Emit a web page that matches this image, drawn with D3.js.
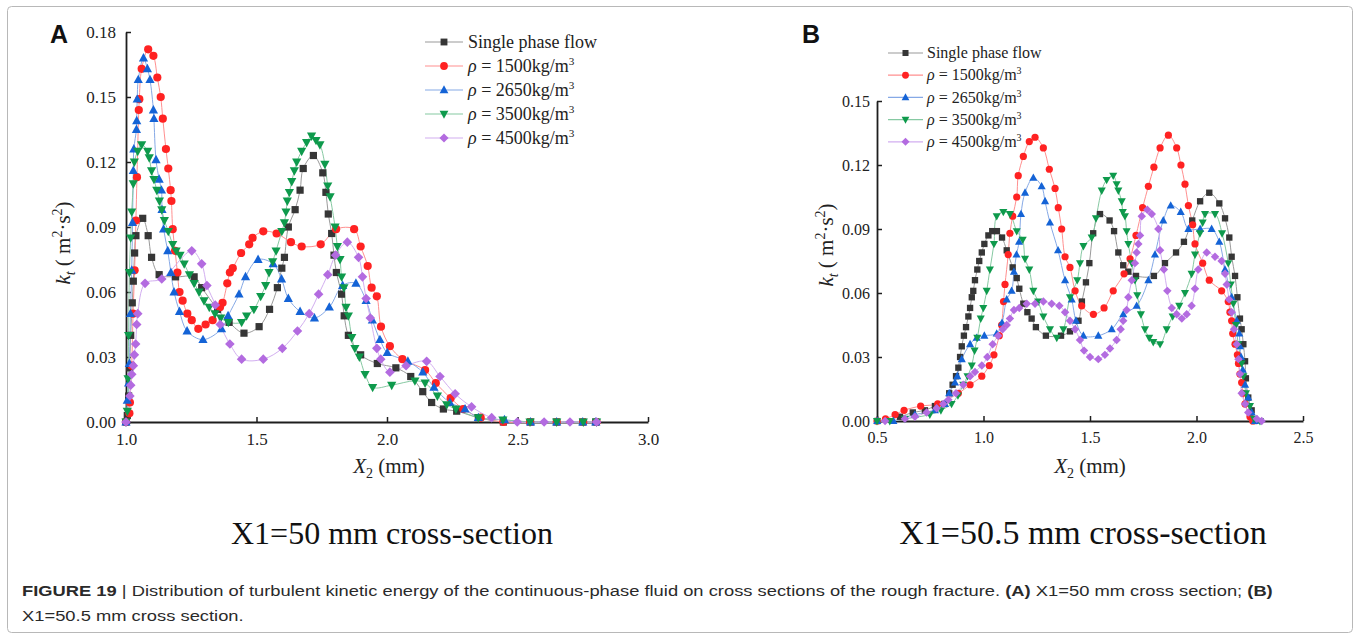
<!DOCTYPE html>
<html>
<head>
<meta charset="utf-8">
<script src="https://cdn.jsdelivr.net/npm/d3@7"></script>
<style>
  body { margin: 0; background: #fff; }
  svg { display: block; }
</style>
</head>
<body>
<script>
// ---- data: [X2 (mm), k_t] pairs ----
// panel A : X1 = 50 mm
var aSingle = [[1.000,0],[1.005,0.003],[1.010,0.012],[1.014,0.025],[1.018,0.040],[1.024,0.055],[1.028,0.065],[1.033,0.078],[1.038,0.086],[1.064,0.094],[1.085,0.086],[1.098,0.076],[1.127,0.068],[1.190,0.067],[1.261,0.067],[1.290,0.062],[1.351,0.052],[1.395,0.046],[1.452,0.041],[1.510,0.044],[1.550,0.052],[1.580,0.062],[1.597,0.071],[1.607,0.076],[1.622,0.090],[1.648,0.098],[1.667,0.107],[1.679,0.117],[1.718,0.123],[1.754,0.115],[1.766,0.106],[1.775,0.096],[1.788,0.087],[1.797,0.077],[1.806,0.069],[1.826,0.059],[1.836,0.049],[1.852,0.040],[1.899,0.031],[1.963,0.027],[2.034,0.025],[2.091,0.021],[2.137,0.014],[2.171,0.009],[2.216,0.006],[2.267,0.005],[2.350,0.002],[2.446,0],[2.550,0],[2.650,0],[2.750,0],[2.800,0]];
var a1500 = [[1.000,0],[1.013,0.004],[1.015,0.009],[1.022,0.026],[1.027,0.050],[1.033,0.070],[1.038,0.093],[1.042,0.113],[1.049,0.144],[1.051,0.149],[1.060,0.163],[1.085,0.172],[1.105,0.169],[1.120,0.159],[1.133,0.150],[1.141,0.140],[1.153,0.126],[1.162,0.117],[1.171,0.107],[1.174,0.102],[1.179,0.089],[1.188,0.079],[1.197,0.069],[1.205,0.060],[1.217,0.056],[1.235,0.050],[1.252,0.047],[1.277,0.043],[1.305,0.045],[1.332,0.047],[1.360,0.053],[1.370,0.055],[1.388,0.064],[1.398,0.069],[1.409,0.071],[1.441,0.078],[1.472,0.082],[1.485,0.085],[1.526,0.088],[1.577,0.087],[1.632,0.083],[1.673,0.081],[1.746,0.082],[1.805,0.089],[1.874,0.089],[1.899,0.081],[1.926,0.072],[1.941,0.062],[1.961,0.058],[1.977,0.044],[2.011,0.035],[2.059,0.029],[2.146,0.024],[2.187,0.018],[2.244,0.011],[2.292,0.006],[2.359,0.002],[2.446,0],[2.548,0],[2.650,0],[2.752,0],[2.803,0]];
var a2650 = [[1.000,0],[1.005,0.010],[1.010,0.018],[1.013,0.027],[1.017,0.050],[1.022,0.070],[1.025,0.092],[1.028,0.116],[1.030,0.126],[1.040,0.135],[1.041,0.139],[1.043,0.149],[1.047,0.158],[1.067,0.168],[1.082,0.163],[1.092,0.158],[1.105,0.144],[1.107,0.140],[1.115,0.121],[1.127,0.112],[1.136,0.107],[1.138,0.098],[1.144,0.089],[1.160,0.079],[1.172,0.069],[1.184,0.060],[1.205,0.051],[1.234,0.042],[1.295,0.038],[1.366,0.043],[1.391,0.049],[1.433,0.059],[1.458,0.067],[1.506,0.075],[1.564,0.073],[1.596,0.066],[1.622,0.057],[1.667,0.051],[1.722,0.048],[1.779,0.053],[1.830,0.063],[1.881,0.064],[1.920,0.056],[1.944,0.047],[1.973,0.038],[2.001,0.032],[2.080,0.028],[2.137,0.023],[2.180,0.016],[2.241,0.009],[2.299,0.006],[2.350,0.002],[2.450,0.001],[2.550,0],[2.650,0],[2.750,0],[2.800,0]];
var a3500 = [[1.000,0],[1.005,0.005],[1.008,0.020],[1.010,0.040],[1.013,0.069],[1.018,0.085],[1.022,0.097],[1.028,0.110],[1.032,0.120],[1.045,0.125],[1.060,0.128],[1.083,0.125],[1.089,0.122],[1.098,0.116],[1.107,0.112],[1.118,0.107],[1.128,0.102],[1.137,0.098],[1.147,0.093],[1.162,0.088],[1.179,0.082],[1.192,0.079],[1.207,0.077],[1.223,0.073],[1.243,0.068],[1.261,0.064],[1.280,0.060],[1.299,0.056],[1.319,0.053],[1.341,0.050],[1.363,0.048],[1.392,0.046],[1.443,0.046],[1.462,0.049],[1.490,0.052],[1.516,0.058],[1.535,0.063],[1.548,0.069],[1.562,0.074],[1.575,0.079],[1.597,0.088],[1.607,0.092],[1.613,0.097],[1.618,0.102],[1.626,0.106],[1.635,0.111],[1.645,0.116],[1.654,0.120],[1.673,0.125],[1.692,0.129],[1.711,0.132],[1.728,0.130],[1.743,0.128],[1.762,0.119],[1.773,0.109],[1.782,0.104],[1.801,0.090],[1.810,0.081],[1.820,0.075],[1.826,0.067],[1.835,0.062],[1.843,0.053],[1.852,0.049],[1.865,0.039],[1.877,0.034],[1.894,0.030],[1.916,0.022],[1.945,0.016],[2.018,0.017],[2.107,0.019],[2.146,0.018],[2.193,0.012],[2.229,0.008],[2.264,0.006],[2.350,0.002],[2.444,0.001],[2.548,0],[2.650,0],[2.752,0],[2.803,0]];
var a4500 = [[1.000,0],[1.015,0.012],[1.018,0.017],[1.022,0.022],[1.028,0.026],[1.032,0.031],[1.037,0.036],[1.041,0.045],[1.045,0.050],[1.073,0.064],[1.137,0.066],[1.252,0.079],[1.290,0.073],[1.310,0.063],[1.342,0.054],[1.361,0.045],[1.398,0.036],[1.443,0.029],[1.526,0.029],[1.599,0.034],[1.657,0.042],[1.702,0.050],[1.738,0.059],[1.773,0.068],[1.803,0.077],[1.848,0.083],[1.891,0.076],[1.906,0.067],[1.920,0.057],[1.936,0.048],[1.961,0.034],[1.976,0.029],[2.011,0.023],[2.073,0.026],[2.152,0.028],[2.203,0.021],[2.261,0.013],[2.324,0.007],[2.401,0.002],[2.499,0],[2.602,0],[2.701,0],[2.803,0]];

// panel B : X1 = 50.5 mm
var bSingle = [[0.501,0],[0.608,0.002],[0.668,0.004],[0.725,0.005],[0.772,0.007],[0.815,0.008],[0.839,0.013],[0.855,0.017],[0.871,0.021],[0.882,0.025],[0.890,0.030],[0.898,0.035],[0.908,0.040],[0.918,0.044],[0.929,0.049],[0.937,0.053],[0.945,0.058],[0.952,0.061],[0.960,0.066],[0.971,0.071],[0.980,0.075],[0.992,0.079],[1.004,0.083],[1.023,0.087],[1.041,0.089],[1.063,0.089],[1.087,0.086],[1.109,0.080],[1.137,0.072],[1.156,0.067],[1.168,0.062],[1.187,0.055],[1.206,0.051],[1.226,0.048],[1.246,0.044],[1.293,0.040],[1.364,0.040],[1.406,0.042],[1.446,0.047],[1.462,0.056],[1.481,0.065],[1.497,0.074],[1.515,0.088],[1.547,0.097],[1.592,0.094],[1.613,0.089],[1.633,0.079],[1.656,0.073],[1.680,0.070],[1.716,0.068],[1.800,0.068],[1.852,0.074],[1.904,0.079],[1.941,0.084],[1.980,0.094],[2.017,0.103],[2.060,0.107],[2.107,0.102],[2.134,0.095],[2.154,0.086],[2.165,0.077],[2.181,0.068],[2.192,0.058],[2.204,0.048],[2.212,0.043],[2.220,0.036],[2.228,0.028],[2.232,0.020],[2.243,0.011],[2.259,0.005],[2.271,0]];
var b1500 = [[0.500,0],[0.540,0.001],[0.585,0.003],[0.627,0.005],[0.705,0.007],[0.785,0.008],[0.882,0.013],[0.937,0.017],[0.992,0.021],[1.027,0.026],[1.049,0.031],[1.074,0.040],[1.085,0.045],[1.094,0.056],[1.101,0.064],[1.116,0.078],[1.124,0.088],[1.137,0.096],[1.156,0.105],[1.163,0.115],[1.187,0.124],[1.215,0.131],[1.242,0.133],[1.281,0.128],[1.309,0.118],[1.336,0.109],[1.351,0.100],[1.367,0.090],[1.383,0.077],[1.406,0.072],[1.430,0.061],[1.461,0.054],[1.516,0.050],[1.566,0.053],[1.609,0.061],[1.660,0.069],[1.688,0.076],[1.716,0.087],[1.747,0.100],[1.774,0.110],[1.800,0.119],[1.829,0.128],[1.868,0.134],[1.907,0.128],[1.927,0.120],[1.946,0.111],[1.962,0.101],[1.982,0.092],[1.993,0.083],[2.029,0.074],[2.060,0.066],[2.118,0.061],[2.149,0.056],[2.157,0.051],[2.165,0.047],[2.170,0.041],[2.181,0.036],[2.192,0.031],[2.197,0.027],[2.204,0.022],[2.212,0.018],[2.217,0.013],[2.228,0.008],[2.251,0.002],[2.264,0]];
var b2650 = [[0.501,0],[0.577,0],[0.678,0.003],[0.772,0.005],[0.819,0.008],[0.839,0.013],[0.866,0.018],[0.877,0.021],[0.898,0.029],[0.937,0.036],[0.968,0.039],[1.004,0.040],[1.062,0.041],[1.087,0.046],[1.109,0.057],[1.132,0.061],[1.143,0.070],[1.155,0.078],[1.167,0.084],[1.176,0.097],[1.195,0.107],[1.234,0.114],[1.273,0.110],[1.289,0.103],[1.312,0.093],[1.350,0.080],[1.383,0.066],[1.414,0.057],[1.434,0.047],[1.469,0.040],[1.539,0.040],[1.602,0.043],[1.656,0.050],[1.719,0.054],[1.774,0.066],[1.805,0.078],[1.844,0.094],[1.879,0.101],[1.926,0.098],[1.962,0.090],[2.017,0.090],[2.071,0.090],[2.107,0.084],[2.134,0.071],[2.165,0.058],[2.189,0.047],[2.201,0.041],[2.204,0.035],[2.209,0.030],[2.217,0.024],[2.228,0.017],[2.243,0.011],[2.259,0.004],[2.275,0]];
var b3500 = [[0.500,0],[0.560,0],[0.631,0.001],[0.748,0.003],[0.800,0.005],[0.850,0.008],[0.880,0.012],[0.905,0.017],[0.925,0.021],[0.945,0.026],[0.958,0.033],[0.971,0.039],[0.987,0.048],[0.999,0.053],[1.015,0.061],[1.030,0.071],[1.049,0.083],[1.062,0.096],[1.093,0.098],[1.124,0.097],[1.156,0.089],[1.184,0.085],[1.195,0.076],[1.215,0.071],[1.234,0.061],[1.257,0.056],[1.281,0.049],[1.312,0.043],[1.344,0.039],[1.375,0.043],[1.406,0.058],[1.440,0.066],[1.453,0.074],[1.469,0.082],[1.508,0.086],[1.528,0.095],[1.555,0.108],[1.578,0.113],[1.609,0.115],[1.625,0.111],[1.633,0.108],[1.649,0.103],[1.654,0.098],[1.664,0.096],[1.672,0.089],[1.680,0.083],[1.696,0.074],[1.711,0.066],[1.722,0.059],[1.739,0.050],[1.758,0.043],[1.778,0.039],[1.797,0.037],[1.829,0.036],[1.860,0.043],[1.888,0.049],[1.919,0.054],[1.946,0.060],[1.977,0.069],[1.993,0.078],[2.016,0.088],[2.029,0.093],[2.040,0.097],[2.087,0.097],[2.120,0.088],[2.149,0.074],[2.161,0.064],[2.173,0.055],[2.185,0.045],[2.196,0.036],[2.212,0.027],[2.220,0.021],[2.232,0.013],[2.251,0.007],[2.270,0.001],[2.298,0]];
var b4500 = [[0.538,0],[0.631,0.001],[0.678,0.002],[0.733,0.004],[0.780,0.006],[0.811,0.008],[0.835,0.010],[0.871,0.013],[0.905,0.017],[0.937,0.021],[0.960,0.023],[0.992,0.026],[1.018,0.030],[1.043,0.036],[1.069,0.040],[1.090,0.043],[1.109,0.045],[1.124,0.048],[1.143,0.052],[1.168,0.053],[1.203,0.055],[1.242,0.055],[1.281,0.056],[1.320,0.055],[1.356,0.054],[1.383,0.051],[1.406,0.047],[1.430,0.043],[1.453,0.038],[1.472,0.033],[1.500,0.030],[1.539,0.029],[1.570,0.031],[1.594,0.034],[1.625,0.038],[1.644,0.043],[1.656,0.047],[1.672,0.052],[1.680,0.058],[1.696,0.066],[1.711,0.074],[1.719,0.079],[1.727,0.083],[1.735,0.087],[1.743,0.096],[1.769,0.099],[1.790,0.097],[1.821,0.090],[1.829,0.080],[1.847,0.071],[1.863,0.061],[1.884,0.053],[1.907,0.050],[1.931,0.048],[1.954,0.050],[1.977,0.054],[1.993,0.062],[2.008,0.071],[2.048,0.079],[2.087,0.077],[2.118,0.075],[2.134,0.069],[2.142,0.064],[2.153,0.057],[2.165,0.051],[2.176,0.043],[2.189,0.036],[2.197,0.029],[2.204,0.022],[2.212,0.013],[2.228,0.008],[2.243,0.004],[2.283,0.001],[2.306,0]];

var seriesNames = ['Single phase flow', '1500', '2650', '3500', '4500'];
var aTicksX = [1.0, 1.5, 2.0, 2.5, 3.0];
var aTicksY = [0.00, 0.03, 0.06, 0.09, 0.12, 0.15, 0.18];
var bTicksX = [0.5, 1.0, 1.5, 2.0, 2.5];
var bTicksY = [0.00, 0.03, 0.06, 0.09, 0.12, 0.15];

// marker / line styling per series
var styles = [
  {sym: 'square',   fill: '#363636', line: '#9a9a9a'},
  {sym: 'circle',   fill: '#ff2222', line: '#ff8f8f'},
  {sym: 'triangle', fill: '#1463d6', line: '#86a9e6'},
  {sym: 'down',     fill: '#0e9a4c', line: '#86c9a2'},
  {sym: 'diamond',  fill: '#b36be0', line: '#d2aef0'}
];

var W = 1354, H = 637;
var svg = d3.select('body').append('svg').attr('width', W).attr('height', H);
svg.append('rect').attr('x', 7.5).attr('y', 6.5).attr('width', 1345).attr('height', 626)
   .attr('rx', 4).attr('fill', '#fff').attr('stroke', '#b8b8b8').attr('stroke-width', 1);

var serif = '"Liberation Serif","Times New Roman",serif';
var sans = '"Liberation Sans",Arial,sans-serif';

function marker(g, type, k)  {
  var p;
  if(type == 'square')
    p = g.append('rect').attr('x', -3.6*k).attr('y', -3.6*k).attr('width', 7.2*k).attr('height', 7.2*k);
  else if(type == 'circle')
    p = g.append('circle').attr('r', 4.1*k);
  else if(type == 'triangle')
    p = g.append('path').attr('d', 'M0,' + (-5*k) + 'L' + (4.6*k) + ',' + (3.4*k) + 'L' + (-4.6*k) + ',' + (3.4*k) + 'Z');
  else if(type == 'down')
    p = g.append('path').attr('d', 'M0,' + (5*k) + 'L' + (4.6*k) + ',' + (-3.4*k) + 'L' + (-4.6*k) + ',' + (-3.4*k) + 'Z');
  else
    p = g.append('path').attr('d', 'M0,' + (-4.8*k) + 'L' + (4.8*k) + ',0L0,' + (4.8*k) + 'L' + (-4.8*k) + ',0Z');
  return p;
}

function draw_panel(cfg)  {
  var x = d3.scaleLinear().domain(cfg.xdom).range(cfg.xr);
  var y = d3.scaleLinear().domain(cfg.ydom).range(cfg.yr);
  var g = svg.append('g');

  // axes (ticks point inward, no box)
  var ax = g.append('g').attr('transform', 'translate(0,' + cfg.yr[0] + ')')
    .call(d3.axisBottom(x).tickValues(cfg.xt).tickFormat(d3.format('.1f')).tickSizeInner(-5).tickSizeOuter(0).tickPadding(11));
  var ay = g.append('g').attr('transform', 'translate(' + cfg.xr[0] + ',0)')
    .call(d3.axisLeft(y).tickValues(cfg.yt).tickFormat(d3.format('.2f')).tickSizeInner(-5).tickSizeOuter(0).tickPadding(cfg.ypad));
  [ax, ay].forEach(function(a)  {
    a.select('.domain').attr('stroke', '#1e1e1e').attr('stroke-width', 1.8);
    a.selectAll('.tick line').attr('stroke', '#1e1e1e').attr('stroke-width', 1.5);
    a.selectAll('text').attr('font-family', serif).attr('font-size', cfg.tickFont).attr('fill', '#222');
  });

  // series: thin smooth line then markers
  var line = d3.line().x(d => x(d[0])).y(d => y(d[1])).curve(d3.curveCatmullRom.alpha(0.5));
  cfg.series.forEach(function(s, i)  {
    g.append('path').attr('d', line(s)).attr('fill', 'none').attr('stroke', styles[i].line).attr('stroke-width', 1);
  });
  cfg.series.forEach(function(s, i)  {
    var mg = g.append('g').attr('fill', styles[i].fill);
    s.forEach(function(d)  {
      var m = mg.append('g').attr('transform', 'translate(' + x(d[0]) + ',' + y(d[1]) + ')');
      marker(m, styles[i].sym, cfg.mk);
    });
  });

  // legend
  var lg = g.append('g');
  seriesNames.forEach(function(name, i)  {
    var yy = cfg.leg.y0 + i*cfg.leg.dy;
    lg.append('line').attr('x1', cfg.leg.x1).attr('x2', cfg.leg.x2).attr('y1', yy).attr('y2', yy)
      .attr('stroke', styles[i].line).attr('stroke-width', 1.2);
    var m = lg.append('g').attr('fill', styles[i].fill)
      .attr('transform', 'translate(' + ((cfg.leg.x1 + cfg.leg.x2)/2) + ',' + yy + ')');
    marker(m, styles[i].sym, cfg.mk*0.95);
    var t = lg.append('text').attr('x', cfg.leg.tx).attr('y', yy + cfg.leg.fs*0.33)
      .attr('font-family', serif).attr('font-size', cfg.leg.fs).attr('fill', '#222');
    if(i == 0)
      t.text(name);
    else  {
      t.append('tspan').attr('font-style', 'italic').text('\u03c1');
      t.append('tspan').text(' = ' + name + 'kg/m');
      t.append('tspan').attr('font-size', cfg.leg.fs*0.62).attr('dy', -cfg.leg.fs*0.38).text('3');
    }
  });

  // axis titles
  var xt = g.append('text').attr('x', cfg.xlab[0]).attr('y', cfg.xlab[1]).attr('text-anchor', 'middle')
    .attr('font-family', serif).attr('font-size', 21).attr('fill', '#222');
  xt.append('tspan').attr('font-style', 'italic').text('X');
  xt.append('tspan').attr('font-size', 14).attr('dy', 5).text('2');
  xt.append('tspan').attr('dy', -5).text(' (mm)');

  var yt = g.append('text').attr('transform', 'translate(' + cfg.ylab[0] + ',' + cfg.ylab[1] + ') rotate(-90)')
    .attr('text-anchor', 'middle').attr('font-family', serif).attr('font-size', 21).attr('fill', '#222');
  yt.append('tspan').attr('font-style', 'italic').text('k');
  yt.append('tspan').attr('font-style', 'italic').attr('font-size', 14).attr('dy', 5).text('t');
  yt.append('tspan').attr('dy', -5).text(' ( m');
  yt.append('tspan').attr('font-size', 14).attr('dy', -8).text('2');
  yt.append('tspan').attr('dy', 8).text('\u00b7s');
  yt.append('tspan').attr('font-size', 14).attr('dy', -8).text('2');
  yt.append('tspan').attr('dy', 8).text(')');

  // panel letter
  g.append('text').attr('x', cfg.letter[0]).attr('y', cfg.letter[1]).attr('font-family', sans)
    .attr('font-weight', 'bold').attr('font-size', 25).attr('fill', '#111').text(cfg.name);

  // sub title under the panel
  g.append('text').attr('x', cfg.sub[0]).attr('y', cfg.sub[1]).attr('text-anchor', 'middle')
    .attr('font-family', serif).attr('font-size', cfg.sub[2]).attr('fill', '#111').text(cfg.subText);
}

draw_panel({
  name: 'A', xdom: [1, 3], xr: [126, 648], ydom: [0, 0.18], yr: [422, 32],
  xt: aTicksX, yt: aTicksY, ypad: 10, tickFont: 17, mk: 1,
  series: [aSingle, a1500, a2650, a3500, a4500],
  leg: {x1: 425, x2: 463, tx: 468, y0: 42, dy: 24, fs: 18},
  xlab: [389, 473], ylab: [70, 243], letter: [50, 43],
  sub: [392, 544, 32], subText: 'X1=50 mm cross-section'
});

draw_panel({
  name: 'B', xdom: [0.5, 2.5], xr: [877, 1303], ydom: [0, 0.15], yr: [421, 101],
  xt: bTicksX, yt: bTicksY, ypad: 7, tickFont: 16, mk: 0.88,
  series: [bSingle, b1500, b2650, b3500, b4500],
  leg: {x1: 888, x2: 923, tx: 927, y0: 53, dy: 22.2, fs: 16},
  xlab: [1090, 473], ylab: [833, 245], letter: [802, 43],
  sub: [1083, 544, 34], subText: 'X1=50.5 mm cross-section'
});

// figure caption
var cap = svg.append('g').attr('font-family', sans).attr('font-size', 15).attr('fill', '#2a2a2a');
var c1 = cap.append('text').attr('x', 0).attr('y', 0);
c1.append('tspan').attr('font-weight', 'bold').text('FIGURE 19');
c1.append('tspan').text(' | Distribution of turbulent kinetic energy of the continuous-phase fluid on cross sections of the rough fracture. ');
c1.append('tspan').attr('font-weight', 'bold').text('(A)');
c1.append('tspan').text(' X1=50 mm cross section; ');
c1.append('tspan').attr('font-weight', 'bold').text('(B)');
var c2 = cap.append('text').attr('x', 0).attr('y', 25).text('X1=50.5 mm cross section.');
var sx = (1273 - 22) / c1.node().getComputedTextLength();
cap.attr('transform', 'translate(22,596) scale(' + sx + ',1)');
</script>
</body>
</html>
